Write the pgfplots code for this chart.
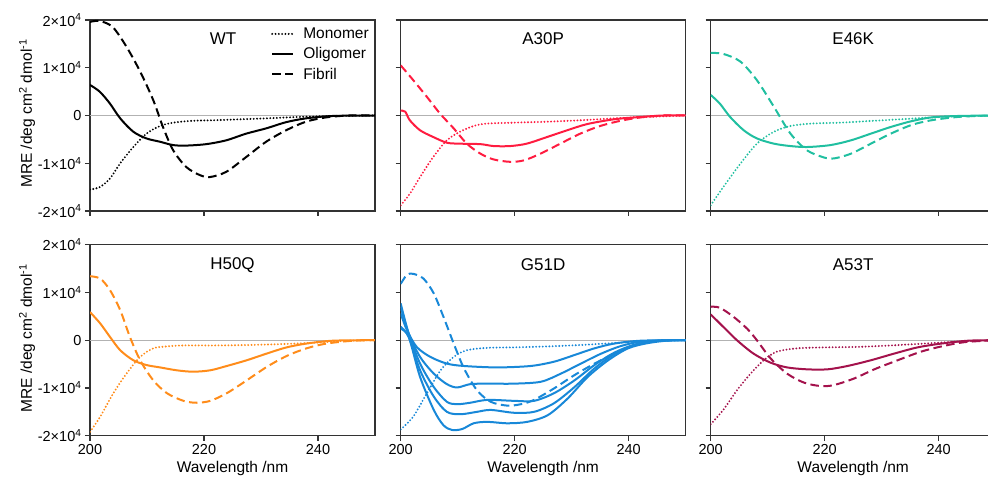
\documentclass[border=0pt]{standalone}
\usepackage{fontspec}
\setmainfont{Liberation Sans}
\usepackage{pgfplots}
\pgfplotsset{compat=1.18}

\definecolor{cWT}{RGB}{0,0,0}
\definecolor{cA30P}{RGB}{255,28,64}
\definecolor{cE46K}{RGB}{32,191,160}
\definecolor{cH50Q}{RGB}{255,140,26}
\definecolor{cG51D}{RGB}{24,136,216}
\definecolor{cA53T}{RGB}{164,18,76}

\tikzset{
 mono/.style={line width=2.1pt, line cap=round, dash pattern=on 0pt off 3.3pt},
 oligo/.style={line width=2pt},
 fib/.style={line width=2pt, dash pattern=on 8.5pt off 4.5pt},
 zeroline/.style={black!30, line width=0.8pt},
 ptitle/.style={font=\fontsize{17}{20}\selectfont},
}

\pgfplotsset{
 cdpanel/.style={
  scale only axis, width=285pt, height=191pt,
  xmin=200, xmax=250, ymin=-20000, ymax=20000,
  xtick={200,220,240}, ytick={-20000,-10000,0,10000,20000},
  scaled y ticks=false, scaled x ticks=false,
  tick align=outside, major tick length=5pt,
  xtick pos=bottom, ytick pos=left,
  axis line style={black!80, line width=1.1pt},
  every tick/.style={black!80, line width=1.1pt},
  tick label style={font=\fontsize{14.5}{16}\selectfont},
  /pgf/number format/assume math mode=true,
  label style={font=\fontsize{15.5}{18}\selectfont},
  yticklabels={}, xticklabels={},
  anchor=south west,
 },
 ylab/.style={
  yticklabels={-2×10\textsuperscript{4},-1×10\textsuperscript{4},0,1×10\textsuperscript{4},2×10\textsuperscript{4}},
  ylabel={MRE /deg cm\textsuperscript{2} dmol\textsuperscript{-1}},
  ylabel style={at={(axis description cs:-0.18,0.51)}, anchor=south},
 },
 xlab/.style={
  xticklabels={200,220,240},
  xlabel={Wavelength /nm},
 },
}

\begin{document}
\begin{tikzpicture}
\useasboundingbox (0,0) rectangle (988pt,482pt);

% WT
\begin{axis}[cdpanel, ylab, at={(90pt,271pt)},
  legend style={at={(rel axis cs:0.635,0.965)}, anchor=north west, draw=none, fill=none,
    font=\fontsize{15.5}{18}\selectfont, row sep=5.5pt, inner sep=0pt,
    nodes={inner sep=1pt},
    /tikz/every odd column/.style={column sep=8pt}},
  legend cell align=left,
  legend image code/.code={\draw[#1] (0pt,0pt) -- (21pt,0pt);}]
\addplot[zeroline, forget plot] coordinates {(200,0) (250,0)};
\addplot[cWT, mono, smooth] coordinates {(200,-15500)(201.7,-15000)(203.5,-13200)(205.3,-10000)(207.6,-6600)(209.9,-3800)(212.3,-2200)(214.6,-1500)(218.1,-1100)(221.6,-1000)(226.3,-800)(230.9,-600)(236.8,-300)(242.6,-100)(250,0)};
\addlegendentry{Monomer}
\addplot[cWT, oligo, smooth] coordinates {(200,6400)(201.7,5000)(203.5,2500)(205.3,-600)(207.6,-3400)(209.9,-4800)(212.3,-5500)(214.6,-6200)(216.9,-6300)(220.4,-6000)(223.9,-5200)(227.4,-3800)(230.9,-2700)(234.4,-1400)(237.9,-600)(242.6,-100)(250,0)};
\addlegendentry{Oligomer}
\addplot[cWT, fib, smooth] coordinates {(200,19600)(201.7,19800)(204,18500)(206.4,14400)(208.8,9200)(211.1,3200)(212.8,-2400)(214.6,-7300)(216.9,-10800)(219.3,-12500)(221,-12900)(223.9,-11800)(227.4,-8700)(230.9,-5500)(234.4,-3100)(237.9,-1300)(241.4,-400)(245.5,0)(250,0)};
\addlegendentry{Fibril}
\node[ptitle] at (rel axis cs:0.467,0.9) {WT};
\end{axis}

% A30P
\begin{axis}[cdpanel, at={(400.7pt,271pt)}]
\addplot[zeroline, forget plot] coordinates {(200,0) (250,0)};
\addplot[cA30P, mono, smooth] coordinates {(200,-18800)(201.6,-16400)(203.4,-12900)(205.7,-8700)(208.1,-5200)(210.4,-3400)(212.8,-2200)(215.1,-1700)(219.8,-1500)(225.7,-1300)(231.5,-1000)(237.4,-600)(243.3,-300)(250,0)};
\addplot[cA30P, oligo, smooth] coordinates {(200,1000)(200.8,800)(201.6,-1000)(203.4,-3100)(205.7,-4500)(208.1,-5700)(210.4,-5900)(214,-6000)(216.3,-6400)(219.2,-6400)(222.1,-5900)(225.7,-4500)(229.2,-3100)(232.7,-1800)(237.4,-800)(242.1,-300)(246.2,0)(250,0)};
\addplot[cA30P, fib, smooth] coordinates {(200,10500)(202.2,7400)(204.6,3900)(206.9,400)(209.3,-2700)(211.6,-5900)(214,-8000)(216.3,-9200)(219.2,-9700)(221.6,-9400)(224.5,-8000)(228,-5900)(231.5,-3800)(235,-2200)(238.6,-1100)(242.1,-400)(246.2,0)(250,0)};
\node[ptitle] at (rel axis cs:0.5,0.9) {A30P};
\end{axis}

% E46K
\begin{axis}[cdpanel, at={(710.7pt,271pt)}]
\addplot[zeroline, forget plot] coordinates {(200,0) (250,0)};
\addplot[cE46K, mono, smooth] coordinates {(200,-18800)(202.2,-15000)(205.2,-10100)(208.1,-5900)(211.1,-3400)(214,-2200)(217.5,-1700)(222.8,-1500)(228.7,-1100)(234.6,-700)(240.5,-300)(250,0)};
\addplot[cE46K, oligo, smooth] coordinates {(200,4300)(201.6,2500)(203.4,-300)(205.8,-3100)(208.1,-4800)(211.1,-5900)(214,-6400)(216.9,-6600)(221,-6200)(224.6,-5200)(228.1,-3800)(231.6,-2400)(235.2,-1200)(238.7,-400)(243.4,-100)(250,0)};
\addplot[cE46K, fib, smooth] coordinates {(200,13100)(202.2,12900)(205.2,11300)(208.1,7400)(211.1,1800)(214,-3800)(216.9,-7300)(219.9,-8800)(221.6,-9000)(224.6,-8000)(228.1,-5900)(231.6,-3800)(235.2,-2000)(238.7,-1000)(243.4,-300)(248.9,0)(250,0)};
\node[ptitle] at (rel axis cs:0.5,0.9) {E46K};
\end{axis}

% H50Q
\begin{axis}[cdpanel, ylab, xlab, at={(90pt,46.3pt)}]
\addplot[zeroline, forget plot] coordinates {(200,0) (250,0)};
\addplot[cH50Q, mono, smooth] coordinates {(200,-19200)(201.8,-16000)(204.1,-11100)(206.4,-7000)(208.8,-3500)(211.1,-1700)(213.5,-1300)(216.4,-1100)(222.2,-1100)(228.1,-1000)(233.9,-800)(239.8,-500)(245.6,-100)(250,0)};
\addplot[cH50Q, oligo, smooth] coordinates {(200,5900)(201.8,3500)(203.5,700)(205.3,-2100)(207.6,-4200)(209.9,-5200)(212.3,-5700)(215.2,-6300)(218.1,-6600)(221.1,-6300)(224,-5400)(227.5,-4200)(231,-2800)(234.5,-1500)(238,-700)(242.7,-100)(250,0)};
\addplot[cH50Q, fib, smooth] coordinates {(200,13400)(201.8,12900)(203.5,10500)(205.3,6300)(207,700)(208.8,-4200)(211.1,-8400)(213.5,-11100)(216.4,-12700)(218.7,-13100)(221.1,-12700)(224,-11100)(227.5,-8400)(231,-5600)(234.5,-3300)(238,-1700)(241.5,-700)(246.2,-100)(250,0)};
\node[ptitle] at (rel axis cs:0.5,0.895) {H50Q};
\end{axis}

% G51D
\begin{axis}[cdpanel, xlab, at={(400.7pt,46.3pt)}]
\addplot[zeroline, forget plot] coordinates {(200,0) (250,0)};
\addplot[cG51D, mono, smooth] coordinates {(200,-18700)(202.2,-16000)(204.6,-11100)(207,-6300)(209.3,-3500)(211.6,-2100)(215.2,-1600)(219.9,-1500)(225.8,-1300)(231.6,-1000)(237.5,-600)(243.4,-200)(250,0)};
\addplot[cG51D, oligo, smooth] coordinates {(200,5600)(201.1,2100)(202.8,-1400)(205.2,-3500)(208.1,-4900)(211.1,-5400)(216.9,-5700)(222.8,-5400)(226.9,-4500)(230.5,-3100)(234,-1700)(237.5,-700)(242.2,-100)(250,0)};
\addplot[cG51D, oligo, smooth] coordinates {(200,7000)(201.4,1400)(203.4,-3500)(205.8,-7000)(208.1,-9200)(209.9,-9900)(212.2,-9200)(215.2,-9100)(219.9,-9100)(224.6,-8700)(228.1,-7000)(231.6,-4900)(235.2,-2800)(238.7,-1200)(242.8,-200)(250,0)};
\addplot[cG51D, oligo, smooth] coordinates {(200,7700)(201.4,1400)(203.4,-4900)(205.8,-9800)(208.1,-12900)(209.9,-13400)(212.2,-13100)(215.2,-12500)(219.9,-12700)(223.4,-12700)(226.9,-11100)(230.5,-8400)(234,-5200)(237.5,-2600)(241.1,-900)(245.2,-100)(250,0)};
\addplot[cG51D, oligo, smooth] coordinates {(200,2800)(201.4,700)(203.4,-6300)(205.8,-11800)(208.1,-15000)(210.5,-15500)(213.4,-15000)(215.8,-14600)(219.9,-15200)(223.4,-15000)(226.9,-13200)(230.5,-9800)(234,-5900)(237.5,-2900)(241.1,-1000)(245.2,-100)(250,0)};
\addplot[cG51D, oligo, smooth] coordinates {(200,2400)(201.4,700)(203.4,-7700)(205.8,-14600)(207.5,-17800)(209,-18800)(210.8,-18600)(212.8,-17400)(215.2,-17100)(218.7,-17400)(222.2,-17100)(225.8,-15700)(229.3,-12200)(232.8,-7700)(236.4,-4200)(239.9,-1700)(243.4,-600)(247.5,0)(250,0)};
\addplot[cG51D, fib, smooth] coordinates {(200,11800)(201.1,13700)(202.2,13900)(204,12900)(205.8,9800)(207.5,4900)(209.3,-700)(211.1,-5900)(213.4,-10500)(215.8,-12900)(218.7,-13700)(221.1,-13400)(223.4,-12500)(226.9,-10100)(230.5,-7300)(234,-4900)(237.5,-2800)(241.1,-1000)(245.2,-100)(250,0)};
\node[ptitle] at (rel axis cs:0.5,0.895) {G51D};
\end{axis}

% A53T
\begin{axis}[cdpanel, xlab, at={(710.7pt,46.3pt)}]
\addplot[zeroline, forget plot] coordinates {(200,0) (250,0)};
\addplot[cA53T, mono, smooth] coordinates {(200,-17600)(202.2,-14600)(204.6,-10500)(207,-7000)(209.3,-4200)(211.6,-2400)(215.2,-1700)(220,-1500)(225.8,-1400)(231.6,-1100)(237.5,-700)(243.4,-300)(250,0)};
\addplot[cA53T, oligo, smooth] coordinates {(200,5400)(202.2,2800)(204.6,0)(207.5,-2800)(210.5,-4700)(213.4,-5700)(216.9,-6100)(220.5,-6100)(224,-5400)(228.1,-4200)(232.2,-2800)(236.3,-1500)(240.5,-700)(245.2,-100)(250,0)};
\addplot[cA53T, fib, smooth] coordinates {(200,7000)(201.6,6800)(204,4900)(206.4,2400)(208.1,0)(210.5,-3800)(213.4,-7000)(216.4,-8900)(219.3,-9600)(221.6,-9400)(225.2,-8000)(228.7,-6100)(232.8,-4200)(236.9,-2400)(240.5,-1300)(244.6,-400)(250,0)};
\node[ptitle] at (rel axis cs:0.5,0.895) {A53T};
\end{axis}
\end{tikzpicture}
\end{document}
